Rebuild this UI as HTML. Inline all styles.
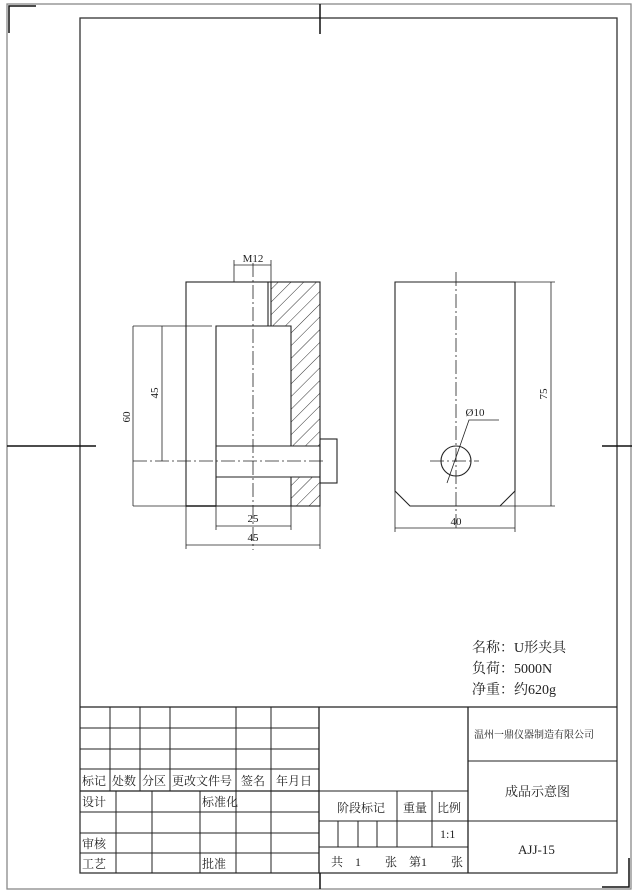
<!DOCTYPE html>
<html><head><meta charset="utf-8"><style>
html,body{margin:0;padding:0;background:#fff;}
svg{display:block;}
text{font-family:"Liberation Serif","Noto Serif CJK SC","Noto Sans CJK SC",serif;fill:#222;}
.cn{font-family:"Liberation Serif","Noto Serif CJK SC",serif;}
</style></head><body>
<svg width="638" height="896" viewBox="0 0 638 896" xmlns="http://www.w3.org/2000/svg">
<defs>
<pattern id="h" patternUnits="userSpaceOnUse" width="9" height="9" patternTransform="rotate(45)">
<line x1="0" y1="0" x2="0" y2="9" stroke="#333" stroke-width="1"/>
</pattern>
</defs>
<g fill="none" stroke="#888" stroke-width="1.3">
<rect x="7" y="4" width="624" height="885"/>
</g>
<g fill="none" stroke="#333" stroke-width="1.3">
<rect x="80" y="18" width="537" height="855"/>
</g>
<g stroke="#111" stroke-width="1.5">
<line x1="320" y1="4" x2="320" y2="34"/>
<line x1="320" y1="873" x2="320" y2="889"/>
<line x1="7" y1="446" x2="96" y2="446"/>
<line x1="602" y1="446" x2="632" y2="446"/>
<polyline points="9,33 9,6 36,6" fill="none"/>
<polyline points="629,858 629,887 602,887" fill="none"/>
</g>

<!-- left view -->
<rect x="271" y="282" width="49" height="44" fill="url(#h)"/>
<rect x="291" y="326" width="29" height="120" fill="url(#h)"/>
<rect x="291" y="477" width="29" height="29" fill="url(#h)"/>
<g fill="none" stroke="#222" stroke-width="1.1">
<rect x="186" y="282" width="134" height="224"/>
<line x1="268" y1="282" x2="268" y2="326"/>
<line x1="271" y1="282" x2="271" y2="326"/>
<line x1="268" y1="326" x2="291" y2="326"/>
<polyline points="216,506 216,326 291,326 291,446"/>
<line x1="291" y1="477" x2="291" y2="506"/>
<line x1="216" y1="446" x2="320" y2="446"/>
<line x1="216" y1="477" x2="320" y2="477"/>
<rect x="320" y="439" width="17" height="44"/>
<line x1="186" y1="506" x2="216" y2="506" stroke-width="1.5"/>
</g>
<g fill="none" stroke="#222" stroke-width="0.8">
<line x1="253" y1="263" x2="253" y2="550" stroke-dasharray="14,3,2,3"/>
<line x1="133" y1="461" x2="325" y2="461" stroke-dasharray="14,3,2,3"/>
<line x1="133" y1="326" x2="212" y2="326"/>
<line x1="133" y1="506" x2="186" y2="506"/>
<line x1="133" y1="326" x2="133" y2="506"/>
<line x1="162" y1="326" x2="162" y2="461"/>
<line x1="216" y1="506" x2="216" y2="530"/>
<line x1="291" y1="506" x2="291" y2="530"/>
<line x1="216" y1="526" x2="291" y2="526"/>
<line x1="186" y1="506" x2="186" y2="549"/>
<line x1="320" y1="506" x2="320" y2="549"/>
<line x1="186" y1="545" x2="320" y2="545"/>
<line x1="234" y1="265" x2="271" y2="265"/>
<line x1="234" y1="260" x2="234" y2="282"/>
<line x1="271" y1="260" x2="271" y2="282"/>
</g>
<g font-size="11" text-anchor="middle">
<text x="253" y="262">M12</text>
<text x="253" y="522">25</text>
<text x="253" y="541">45</text>
<text transform="translate(130,417) rotate(-90)">60</text>
<text transform="translate(158,393) rotate(-90)">45</text>
</g>

<!-- right view -->
<g fill="none" stroke="#222" stroke-width="1.1">
<polygon points="395,282 515,282 515,491 500,506 410,506 395,491"/>
<circle cx="456" cy="461" r="15"/>
</g>
<g fill="none" stroke="#222" stroke-width="0.8">
<line x1="456" y1="272" x2="456" y2="530" stroke-dasharray="14,3,2,3"/>
<line x1="430" y1="461" x2="479" y2="461" stroke-dasharray="14,3,2,3"/>
<polyline points="447,483 469,420 499,420"/>
<line x1="515" y1="282" x2="555" y2="282"/>
<line x1="500" y1="506" x2="555" y2="506"/>
<line x1="551" y1="282" x2="551" y2="506"/>
<line x1="395" y1="491" x2="395" y2="532"/>
<line x1="515" y1="491" x2="515" y2="532"/>
<line x1="395" y1="528" x2="515" y2="528"/>
</g>
<g font-size="11" text-anchor="middle">
<text x="475" y="416">Ø10</text>
<text x="456" y="525">40</text>
<text transform="translate(547,394) rotate(-90)">75</text>
</g>

<!-- notes -->
<g font-size="14" class="cn">
<text x="472" y="652">名称：U形夹具</text>
<text x="472" y="673">负荷：5000N</text>
<text x="472" y="694">净重：约620g</text>
</g>

<!-- title block -->
<g fill="none" stroke="#222" stroke-width="1">
<line x1="80" y1="707" x2="617" y2="707" stroke-width="1.3"/>
<line x1="80" y1="728" x2="319" y2="728"/>
<line x1="80" y1="749" x2="319" y2="749"/>
<line x1="80" y1="769" x2="319" y2="769"/>
<line x1="80" y1="791" x2="319" y2="791" stroke-width="1.3"/>
<line x1="80" y1="812" x2="319" y2="812"/>
<line x1="80" y1="833" x2="319" y2="833"/>
<line x1="80" y1="853" x2="319" y2="853"/>
<line x1="110" y1="707" x2="110" y2="791"/>
<line x1="140" y1="707" x2="140" y2="791"/>
<line x1="170" y1="707" x2="170" y2="791"/>
<line x1="236" y1="707" x2="236" y2="873"/>
<line x1="271" y1="707" x2="271" y2="873"/>
<line x1="116" y1="791" x2="116" y2="873"/>
<line x1="152" y1="791" x2="152" y2="873"/>
<line x1="200" y1="791" x2="200" y2="873"/>
<line x1="319" y1="707" x2="319" y2="873" stroke-width="1.3"/>
<line x1="468" y1="707" x2="468" y2="873" stroke-width="1.3"/>
<line x1="319" y1="791" x2="468" y2="791"/>
<line x1="319" y1="821" x2="468" y2="821"/>
<line x1="319" y1="847" x2="468" y2="847"/>
<line x1="397" y1="791" x2="397" y2="847"/>
<line x1="432" y1="791" x2="432" y2="847"/>
<line x1="338" y1="821" x2="338" y2="847"/>
<line x1="358" y1="821" x2="358" y2="847"/>
<line x1="377" y1="821" x2="377" y2="847"/>
<line x1="468" y1="761" x2="617" y2="761"/>
<line x1="468" y1="821" x2="617" y2="821"/>
</g>
<g font-size="12" class="cn">
<text x="82" y="785">标记</text>
<text x="112" y="785">处数</text>
<text x="142" y="785">分区</text>
<text x="172" y="785">更改文件号</text>
<text x="241" y="785">签名</text>
<text x="276" y="785">年月日</text>
<text x="82" y="806">设计</text>
<text x="202" y="806">标准化</text>
<text x="82" y="848">审核</text>
<text x="82" y="868">工艺</text>
<text x="202" y="868">批准</text>
<text x="337" y="812">阶段标记</text>
<text x="403" y="812">重量</text>
<text x="437" y="812">比例</text>
<text x="440" y="838">1:1</text>
<text x="331" y="866">共　1　　张　第1　　张</text>
<text x="474" y="738" font-size="10">温州一鼎仪器制造有限公司</text>
<text x="505" y="796" font-size="13">成品示意图</text>
<text x="518" y="854" font-size="13">AJJ-15</text>
</g>
</svg>
</body></html>
